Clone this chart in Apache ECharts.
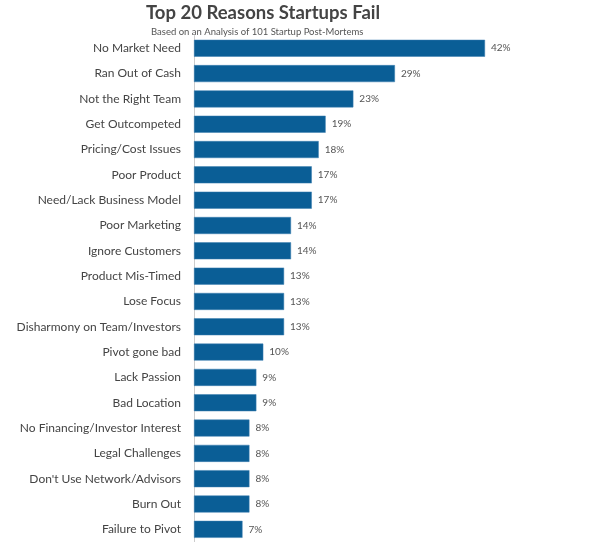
<!DOCTYPE html>
<html><head><meta charset="utf-8">
<script src="https://cdn.jsdelivr.net/npm/echarts@6/dist/echarts.min.js"></script>
<style>html,body{margin:0;padding:0;background:#fff}#c{width:595px;height:542px}</style>
</head><body><div id="c"></div>
<script>
var categories = ["No Market Need","Ran Out of Cash","Not the Right Team","Get Outcompeted","Pricing/Cost Issues","Poor Product","Need/Lack Business Model","Poor Marketing","Ignore Customers","Product Mis-Timed","Lose Focus","Disharmony on Team/Investors","Pivot gone bad","Lack Passion","Bad Location","No Financing/Investor Interest","Legal Challenges","Don't Use Network/Advisors","Burn Out","Failure to Pivot"];
var values = [42,29,23,19,18,17,17,14,14,13,13,13,10,9,9,8,8,8,8,7];
var titleText = "Top 20 Reasons Startups Fail";
var subtitleText = "Based on an Analysis of 101 Startup Post-Mortems";

var chart = echarts.init(document.getElementById('c'));
chart.setOption({
  backgroundColor: '#ffffff',
  animation: false,
  title: [{
    text: titleText,
    left: 141,
    top: -1,
    textStyle: {fontFamily: 'Lato', fontWeight: 'bold', fontSize: 18.5, color: '#444444'}
  }, {
    text: subtitleText,
    left: 146,
    top: 22,
    textStyle: {fontFamily: 'Lato', fontWeight: 'normal', fontSize: 9.5, color: '#555555'}
  }],
  grid: {left: 194, right: 110, top: 35.6, bottom: -2.2, containLabel: false},
  xAxis: {type: 'value', min: 0, max: 42, show: false},
  yAxis: {
    type: 'category', data: categories, inverse: true,
    axisLine: {show: true, lineStyle: {color: '#cccccc', width: 1}},
    axisTick: {show: false},
    axisLabel: {fontFamily: 'Lato', fontSize: 12, color: '#444444', margin: 13}
  },
  series: [{
    type: 'bar', data: values, barWidth: 17,
    itemStyle: {color: '#0a5e96', borderColor: '#3d7fb0', borderWidth: 0.5},
    label: {show: true, position: 'right', distance: 6, formatter: '{c}%', fontFamily: 'Lato', fontSize: 10, color: '#555555'}
  }]
});
</script></body></html>
